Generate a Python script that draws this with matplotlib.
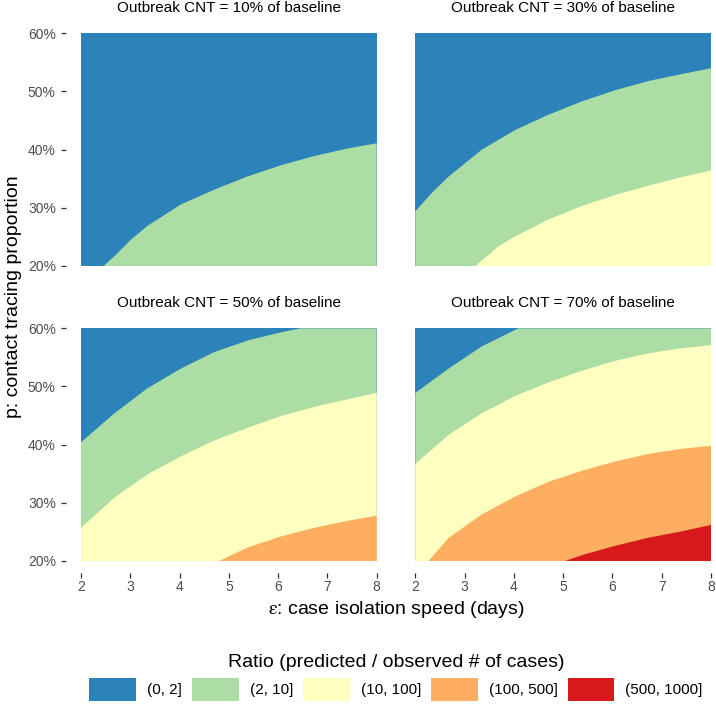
import numpy as np
import matplotlib
matplotlib.use("Agg")
import matplotlib.pyplot as plt
from matplotlib.patches import Patch

plt.rcParams['font.family'] = ['Liberation Sans', 'DejaVu Sans']
plt.rcParams['mathtext.fontset'] = 'stix'

# categories / legend
ratio_labels = ["(0, 2]", "(2, 10]", "(10, 100]", "(100, 500]", "(500, 1000]"]
ratio_colors = ["#2B83BA", "#ABDDA4", "#FFFFBF", "#FDAE61", "#D7191C"]

panel_titles = ["Outbreak CNT = 10% of baseline", "Outbreak CNT = 30% of baseline",
                "Outbreak CNT = 50% of baseline", "Outbreak CNT = 70% of baseline"]

x_ticks = [2, 3, 4, 5, 6, 7, 8]
y_ticks = [20, 30, 40, 50, 60]
y_tick_labels = ["20%", "30%", "40%", "50%", "60%"]

# boundary curves between ratio classes (epsilon, p in %)
# each panel: list of boundaries, boundary k separates class k (above) from k+1 (below)
cnt10_b1_x = [2.46, 2.68, 3.01, 3.35, 4.03, 4.70, 5.38, 6.05, 6.73, 7.41, 8.0]
cnt10_b1_p = [20.0, 21.7, 24.5, 26.9, 30.6, 33.1, 35.4, 37.3, 38.9, 40.2, 41.1]

cnt30_b1_x = [2.0, 2.34, 2.68, 3.35, 4.03, 4.70, 5.38, 6.05, 6.73, 7.41, 8.0]
cnt30_b1_p = [29.4, 32.6, 35.4, 40.0, 43.4, 46.0, 48.3, 50.2, 51.8, 53.0, 54.0]
cnt30_b2_x = [3.22, 3.69, 4.03, 4.70, 5.38, 6.05, 6.73, 7.41, 8.0]
cnt30_b2_p = [20.0, 23.4, 25.1, 28.0, 30.3, 32.2, 33.8, 35.3, 36.4]

cnt50_b1_x = [2.0, 2.68, 3.35, 4.03, 4.70, 5.38, 6.05, 6.46]
cnt50_b1_p = [40.4, 45.4, 49.7, 53.1, 55.9, 57.9, 59.3, 60.0]
cnt50_b2_x = [2.0, 2.68, 3.35, 4.03, 4.70, 5.38, 6.05, 6.73, 7.41, 8.0]
cnt50_b2_p = [25.7, 30.9, 34.9, 38.0, 40.7, 42.9, 44.9, 46.5, 47.8, 48.9]
cnt50_b3_x = [4.80, 5.38, 6.05, 6.73, 7.41, 8.0]
cnt50_b3_p = [20.0, 22.3, 24.2, 25.7, 26.9, 27.8]

cnt70_b1_x = [2.0, 2.68, 3.35, 4.09]
cnt70_b1_p = [48.9, 53.1, 56.9, 60.0]
cnt70_b2_x = [2.0, 2.68, 3.35, 4.03, 4.70, 5.38, 6.05, 6.73, 7.41, 8.0]
cnt70_b2_p = [36.7, 41.7, 45.4, 48.4, 50.7, 52.7, 54.4, 55.7, 56.6, 57.1]
cnt70_b3_x = [2.27, 2.68, 3.35, 4.03, 4.70, 5.38, 6.05, 6.73, 7.41, 8.0]
cnt70_b3_p = [20.0, 24.0, 28.0, 31.1, 33.6, 35.5, 37.1, 38.4, 39.3, 39.8]
cnt70_b4_x = [5.04, 5.38, 6.05, 6.73, 7.41, 8.0]
cnt70_b4_p = [20.0, 21.0, 22.6, 24.0, 25.1, 26.2]

panels = [
    [(cnt10_b1_x, cnt10_b1_p)],
    [(cnt30_b1_x, cnt30_b1_p), (cnt30_b2_x, cnt30_b2_p)],
    [(cnt50_b1_x, cnt50_b1_p), (cnt50_b2_x, cnt50_b2_p), (cnt50_b3_x, cnt50_b3_p)],
    [(cnt70_b1_x, cnt70_b1_p), (cnt70_b2_x, cnt70_b2_p), (cnt70_b3_x, cnt70_b3_p),
     (cnt70_b4_x, cnt70_b4_p)],
]

x_min, x_max = 2, 8
p_min, p_max = 20, 60

fig = plt.figure(figsize=(7.16, 7.07), dpi=100)

# axes boxes (ggplot-like expanded panels)
W, H = 716, 707
lefts = [66.2, 400.5]
tops = [21.7, 316.7]
ax_w, ax_h = 325.3, 255.9

tick_col = "#333333"
lab_col = "#4D4D4D"

for i, bounds in enumerate(panels):
    row, col = divmod(i, 2)
    ax = fig.add_axes([lefts[col] / W, 1 - (tops[row] + ax_h) / H, ax_w / W, ax_h / H])
    ax.set_xlim(x_min - 0.3, x_max + 0.3)
    ax.set_ylim(p_min - 2, p_max + 2)

    # lowest class fills the panel, then paint each class below its boundary
    ax.fill([x_min, x_max, x_max, x_min], [p_min, p_min, p_max, p_max],
            color=ratio_colors[0], lw=0)
    for k, (bx, bp) in enumerate(bounds):
        px = list(bx)
        pp = list(bp)
        if px[-1] < x_max:
            px.append(x_max)
            pp.append(p_max)
        px += [x_max, x_min]
        pp += [p_min, p_min]
        ax.fill(px, pp, color=ratio_colors[k + 1], lw=0)

    for s in ax.spines.values():
        s.set_visible(False)

    ax.set_xticks(x_ticks)
    ax.set_yticks(y_ticks)
    ax.set_yticklabels(y_tick_labels)
    ax.tick_params(axis='both', colors=tick_col, labelcolor=lab_col, labelsize=10,
                   length=3.5, width=0.9)
    ax.tick_params(axis='x', pad=2)
    ax.tick_params(axis='y', pad=4)
    if row == 0:
        ax.tick_params(axis='x', bottom=False, labelbottom=False)
    if col == 1:
        ax.tick_params(axis='y', left=False, labelleft=False)

    ax.text(0.5, 1 + 13.5 / ax_h, panel_titles[i], transform=ax.transAxes,
            ha='center', va='center', fontsize=11, color='black')

fig.text(396 / W, 1 - 610 / H, r'$\mathrm{\varepsilon}$: case isolation speed (days)',
         ha='center', va='center', fontsize=14)
fig.text(14 / W, 1 - 297 / H, 'p: contact tracing proportion', rotation=90,
         ha='center', va='center', fontsize=14)

handles = [Patch(facecolor=c, edgecolor='none') for c in ratio_colors]
leg = fig.legend(handles, ratio_labels, loc='upper center', ncol=5,
                 bbox_to_anchor=(396 / W, 1 - 646 / H), frameon=False,
                 fontsize=11, handlelength=3.06, handleheight=1.9,
                 handletextpad=0.72, columnspacing=0.65, borderpad=0,
                 title='Ratio (predicted / observed # of cases)', title_fontsize=14)

fig.savefig('out.png', dpi=100)
